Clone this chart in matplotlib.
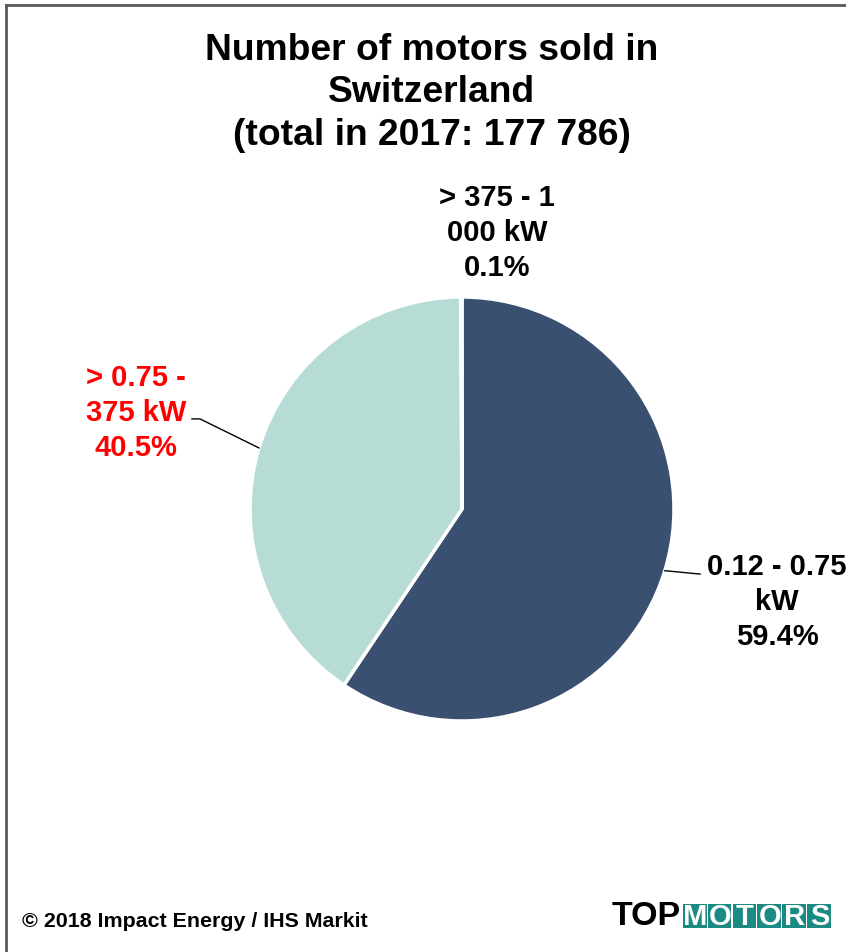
import matplotlib
matplotlib.use("Agg")
import matplotlib.pyplot as plt
import numpy as np
from matplotlib.lines import Line2D
from matplotlib.patches import Rectangle

plt.rcParams['font.family'] = ['Liberation Sans', 'DejaVu Sans']

# data
categories = ["0.12 - 0.75\nkW", "> 0.75 -\n375 kW", "> 375 - 1\n000 kW"]
shares = [59.4, 40.5, 0.1]
colors = ["#3A5071", "#B7DBD5", "#FFFFFF"]
label_colors = ["black", "red", "black"]

fig = plt.figure(figsize=(8.46, 9.53), dpi=100)

# frame lines (top and left only)
bc = "#595959"
fig.add_artist(Line2D([6 / 846, 1.0], [1 - 6 / 953, 1 - 6 / 953], color=bc, lw=2.0,
                      transform=fig.transFigure))
fig.add_artist(Line2D([6 / 846, 6 / 846], [0.0, 1 - 6 / 953], color=bc, lw=2.0,
                      transform=fig.transFigure))

fig.text(0.51, 1 - 93 / 953, "Number of motors sold in\nSwitzerland\n(total in 2017: 177 786)",
         ha="center", va="center", fontsize=26.8, fontweight="bold", linespacing=1.27)

ax = fig.add_axes([0.2955, 0.2424, 0.5012, 0.4449])
wedges, _ = ax.pie(shares, colors=colors, startangle=90, counterclock=False,
                   radius=1, wedgeprops=dict(edgecolor="white", linewidth=2.5))
ax.set_xlim(-1, 1)
ax.set_ylim(-1, 1)
ax.set_aspect("equal")
ax.axis("off")

text_pos = [(1.486, -0.434), (-1.538, 0.458), (0.165, 1.307)]
for i, w in enumerate(wedges):
    ax.text(text_pos[i][0], text_pos[i][1], f"{categories[i]}\n{shares[i]}%",
            ha="center", va="center", fontsize=21, fontweight="bold",
            color=label_colors[i], linespacing=1.3, clip_on=False)

# leader lines
mid0 = np.deg2rad((wedges[0].theta1 + wedges[0].theta2) / 2)
ax.plot([np.cos(mid0), 1.123], [np.sin(mid0), -0.307], color="black", lw=1, clip_on=False)
mid1 = np.deg2rad((wedges[1].theta1 + wedges[1].theta2) / 2)
ax.plot([np.cos(mid1), -1.236, -1.274], [np.sin(mid1), 0.425, 0.425], color="black", lw=1,
        clip_on=False)

fig.text(22 / 846, 1 - 922 / 953, "\u00a9 2018 Impact Energy / IHS Markit",
         ha="left", va="center", fontsize=15.4, fontweight="bold")

# logo
fig.text(612 / 846, 1 - 917 / 953, "TOP", ha="left", va="center", fontsize=24.5,
         fontweight="heavy", color="black")
tile_w = 24.8
for k, ch in enumerate("MOTORS"):
    x0 = 683 + k * tile_w
    fig.add_artist(Rectangle((x0 / 846, 1 - 929 / 953), (tile_w - 1.2) / 846, 24 / 953,
                             transform=fig.transFigure, fc="#1A8A82", ec="none"))
    fig.text((x0 + tile_w / 2) / 846, 1 - 917 / 953, ch, ha="center", va="center",
             fontsize=21, fontweight="bold", color="white")

fig.savefig("out.png", dpi=100)
